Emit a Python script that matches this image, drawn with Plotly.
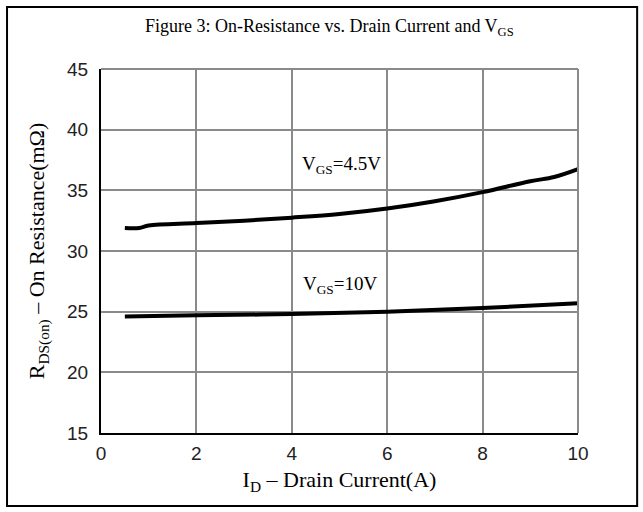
import plotly.graph_objects as go

# Data
id_45 = [0.5, 0.8, 1.0, 2.0, 3.0, 4.0, 5.0, 6.0, 7.0, 8.0, 9.0, 9.5, 10.0]
r_45 = [31.9, 31.9, 32.1, 32.3, 32.5, 32.75, 33.05, 33.5, 34.1, 34.85, 35.75, 36.1, 36.75]
id_10 = [0.5, 2.0, 4.0, 6.0, 8.0, 10.0]
r_10 = [24.6, 24.7, 24.8, 25.0, 25.3, 25.7]
x_ticks = [0, 2, 4, 6, 8, 10]
y_ticks = [15, 20, 25, 30, 35, 40, 45]

serif = "Liberation Serif, Times New Roman, serif"
sans = "Liberation Sans, Arial, sans-serif"

fig = go.Figure()
fig.add_trace(go.Scatter(x=id_45, y=r_45, mode="lines", line=dict(color="black", width=4, shape="spline"), showlegend=False))
fig.add_trace(go.Scatter(x=id_10, y=r_10, mode="lines", line=dict(color="black", width=4, shape="spline"), showlegend=False))

fig.update_layout(
    width=643, height=512,
    margin=dict(l=101, r=65, t=69, b=79),
    plot_bgcolor="white", paper_bgcolor="white",
    showlegend=False,
)
fig.update_xaxes(
    range=[0, 10], tickvals=x_ticks, showgrid=True, gridcolor="#8a8a8a", gridwidth=2,
    showline=True, linecolor="black", linewidth=2, zeroline=False,
    tickfont=dict(family=sans, size=19, color="#222222"), ticks="", ticklabelstandoff=2,
    title=dict(text="I<sub>D</sub> – Drain Current(A)", font=dict(family=serif, size=22, color="black"), standoff=9),
)
fig.update_yaxes(
    range=[15, 45], tickvals=y_ticks, showgrid=True, gridcolor="#8a8a8a", gridwidth=2,
    showline=True, linecolor="black", linewidth=2, zeroline=False,
    tickfont=dict(family=sans, size=19, color="#222222"), ticks="", ticklabelstandoff=7,
    title=dict(text="R<sub>DS(on)</sub> – On Resistance(mΩ)", font=dict(family=serif, size=22, color="black"), standoff=16),
)

# top and right frame (gray)
fig.add_shape(type="line", xref="paper", yref="paper", x0=0, x1=1, y0=1, y1=1, line=dict(color="#8a8a8a", width=2))
fig.add_shape(type="line", xref="paper", yref="paper", x0=1, x1=1, y0=0, y1=1, line=dict(color="#8a8a8a", width=2))
# outer border
fig.add_shape(type="rect", xref="paper", yref="paper", x0=-0.197, x1=1.124, y0=-0.2005, y1=1.170,
              line=dict(color="black", width=2), fillcolor="rgba(0,0,0,0)", layer="below")

fig.add_annotation(text="Figure 3: On-Resistance vs. Drain Current and V<sub>GS</sub>", xref="paper", yref="paper",
                   x=0.48, y=1.115, yanchor="middle", showarrow=False, font=dict(family=serif, size=18, color="black"))
fig.add_annotation(text="V<sub>GS</sub>=4.5V", x=4.18, y=37.1, xanchor="left", showarrow=False,
                   font=dict(family=serif, size=19, color="black"))
fig.add_annotation(text="V<sub>GS</sub>=10V", x=4.2, y=27.2, xanchor="left", showarrow=False,
                   font=dict(family=serif, size=19, color="black"))

fig.write_html("out.html", config={"displayModeBar": False, "staticPlot": True},
               post_script="document.body.style.margin='0';")
